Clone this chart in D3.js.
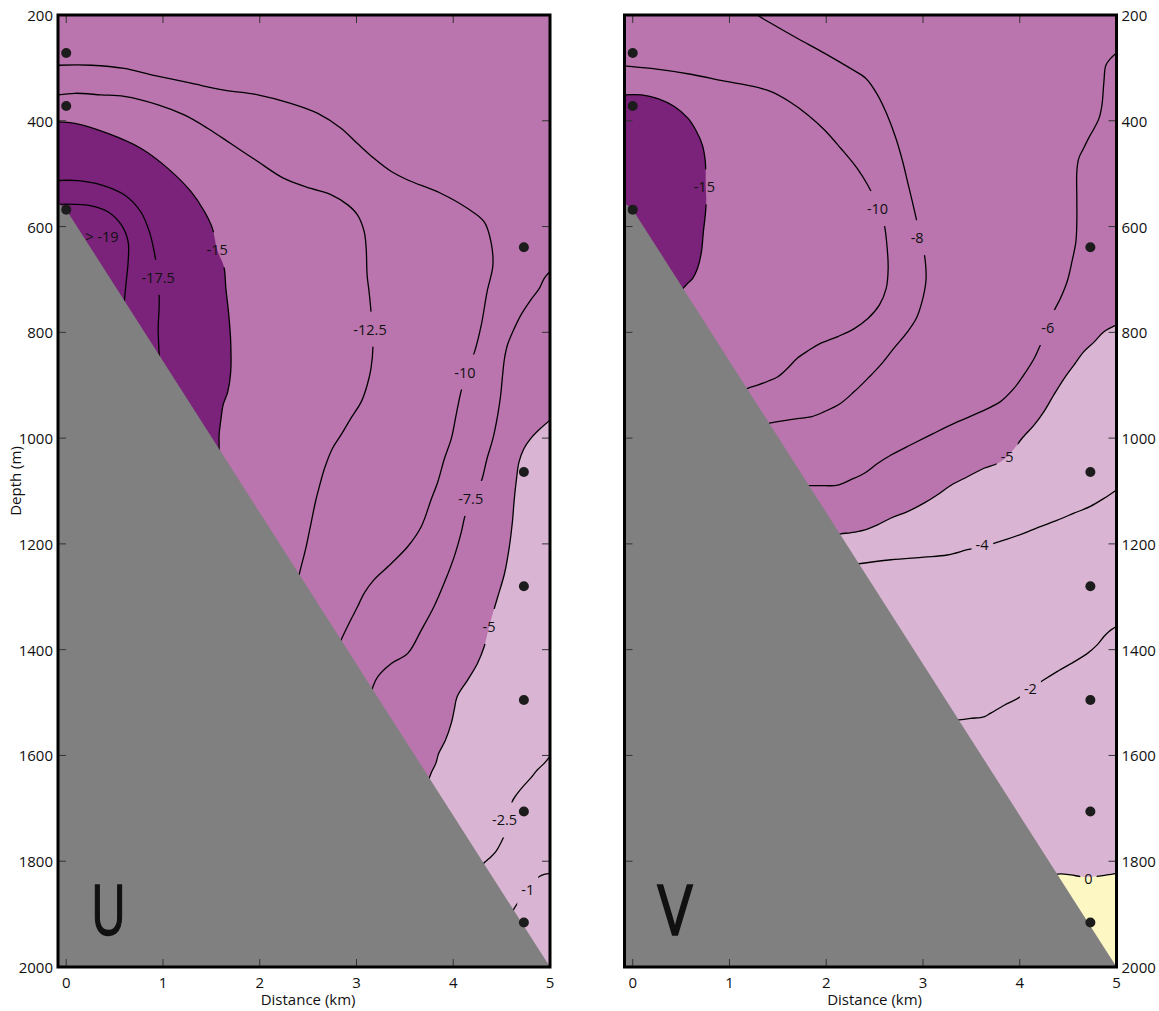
<!DOCTYPE html>
<html>
<head>
<meta charset="utf-8">
<script src="https://cdn.jsdelivr.net/npm/d3@7"></script>
<style>
  body { margin: 0; background: #fff; }
  svg text { font-family: "Open Sans", "Noto Sans", sans-serif; fill: #111; }
</style>
</head>
<body>
<svg id="chart" width="1159" height="1011"></svg>
<script>
// axes
const distTicks = [0, 1, 2, 3, 4, 5];
const depthTicks = [200, 400, 600, 800, 1000, 1200, 1400, 1600, 1800, 2000];

// bottom profile (km, m) and CTD/current meter stations
const seabed = [[-0.1, 553], [0, 568], [5, 2000]];
const stationKm = [0, 0, 0, 4.73, 4.73, 4.73, 4.73, 4.73, 4.73];
const stationDepth = [272, 372, 568, 639, 1064, 1280, 1495, 1706, 1916];

// U contours, [distance km, depth m]
const uC19 = [[-0.09,558],[0.09,558],[0.26,561],[0.43,572],[0.57,597],[0.64,629],[0.64,666],[0.62,704],[0.60,742],[0.59,760]];
const uC175 = [[-0.09,513],[0.12,513],[0.36,521],[0.60,540],[0.77,572],[0.86,610],[0.91,648],[0.95,696],[0.96,726],[0.96,755],[0.95,793],[0.96,843],[0.96,870]];
const uC15 = [[-0.09,402],[0.09,405],[0.43,424],[0.77,452],[1.05,490],[1.29,534],[1.43,572],[1.51,603],[1.56,644],[1.63,676],[1.65,717],[1.68,767],[1.70,818],[1.70,875],[1.67,912],[1.62,938],[1.60,963],[1.58,994],[1.58,1020],[1.57,1040]];
const uC125 = [[-0.09,351],[0.09,348],[0.36,351],[0.60,354],[0.95,370],[1.22,389],[1.46,414],[1.70,443],[1.98,477],[2.25,509],[2.53,528],[2.74,540],[2.91,559],[3.01,578],[3.08,610],[3.10,641],[3.11,692],[3.13,723],[3.15,761],[3.16,794],[3.17,827],[3.15,868],[3.11,900],[3.05,931],[2.94,963],[2.84,994],[2.75,1020],[2.67,1057],[2.62,1089],[2.58,1117],[2.53,1161],[2.48,1205],[2.41,1256],[2.38,1280]];
const uC10 = [[-0.09,295],[0.26,295],[0.60,301],[0.88,313],[1.29,329],[1.63,342],[1.98,351],[2.32,367],[2.60,386],[2.84,414],[3.01,443],[3.18,471],[3.36,496],[3.53,512],[3.87,537],[4.15,566],[4.32,591],[4.39,629],[4.41,673],[4.35,723],[4.29,786],[4.22,837],[4.14,875],[4.08,912],[4.03,956],[3.98,1001],[3.91,1038],[3.84,1083],[3.77,1117],[3.67,1167],[3.53,1205],[3.36,1237],[3.18,1268],[3.08,1293],[3.01,1319],[2.94,1344],[2.84,1382],[2.80,1400]];
const uC75 = [[5.0,685],[4.94,698],[4.89,717],[4.80,739],[4.70,767],[4.63,793],[4.56,824],[4.53,849],[4.51,881],[4.49,919],[4.46,956],[4.41,1001],[4.35,1038],[4.30,1076],[4.25,1101],[4.19,1120],[4.13,1142],[4.08,1180],[4.01,1224],[3.92,1268],[3.80,1319],[3.67,1363],[3.53,1407],[3.36,1426],[3.22,1451],[3.17,1470],[3.14,1490]];
const uC5 = [[5.0,966],[4.90,982],[4.80,1001],[4.73,1020],[4.68,1045],[4.65,1083],[4.63,1117],[4.61,1161],[4.58,1205],[4.53,1256],[4.46,1300],[4.41,1331],[4.37,1356],[4.32,1394],[4.25,1426],[4.15,1457],[4.04,1489],[4.01,1514],[3.98,1539],[3.92,1571],[3.85,1596],[3.82,1615],[3.77,1634],[3.72,1660]];
const uC25 = [[5.0,1602],[4.94,1615],[4.87,1627],[4.80,1643],[4.72,1659],[4.65,1675],[4.61,1687],[4.57,1718],[4.53,1750],[4.49,1766],[4.44,1782],[4.37,1795],[4.32,1803],[4.28,1812]];
const uC1 = [[5.0,1823],[4.94,1825],[4.89,1829],[4.80,1845],[4.72,1867],[4.68,1876],[4.63,1889],[4.60,1900]];
const uLabels = [['-17.5',0.95,696],['-15',1.56,644],['-12.5',3.14,794],['-10',4.12,875],['-7.5',4.18,1114],['-5',4.37,1356],['-2.5',4.53,1722],['-1',4.77,1853]];
const uRegionLabel = ['> -19', 0.37, 619];

// V contours
const vC15 = [[-0.09,351],[0.09,351],[0.26,358],[0.43,373],[0.57,395],[0.65,417],[0.72,446],[0.75,477],[0.755,525],[0.76,550],[0.75,578],[0.73,610],[0.71,648],[0.67,679],[0.62,698],[0.57,707],[0.52,717],[0.47,730]];
const vC10 = [[-0.09,296],[0.19,301],[0.60,312],[0.95,325],[1.22,334],[1.43,345],[1.63,365],[1.81,389],[1.98,417],[2.15,452],[2.32,490],[2.43,522],[2.49,544],[2.55,570],[2.60,597],[2.63,641],[2.64,679],[2.62,717],[2.55,748],[2.43,774],[2.29,793],[2.12,808],[1.94,821],[1.82,834],[1.70,849],[1.60,868],[1.50,884],[1.39,893],[1.29,900],[1.20,905],[1.12,912]];
const vC8 = [[1.27,195],[1.29,200],[1.46,219],[1.70,244],[1.98,272],[2.25,301],[2.41,320],[2.53,351],[2.63,389],[2.72,433],[2.79,477],[2.84,515],[2.89,553],[2.93,585],[2.97,621],[3.01,648],[3.03,679],[3.03,704],[2.99,742],[2.93,774],[2.84,799],[2.70,830],[2.56,862],[2.43,887],[2.29,912],[2.15,934],[1.98,950],[1.84,960],[1.70,963],[1.53,968],[1.41,972],[1.36,975]];
const vC6 = [[5.0,272],[4.94,282],[4.89,295],[4.87,326],[4.85,370],[4.82,395],[4.77,414],[4.72,430],[4.66,452],[4.61,471],[4.59,496],[4.59,547],[4.59,591],[4.58,629],[4.54,666],[4.49,704],[4.42,736],[4.35,761],[4.29,791],[4.22,821],[4.15,849],[4.04,881],[3.94,906],[3.80,931],[3.60,950],[3.36,969],[3.11,991],[2.87,1013],[2.67,1032],[2.53,1048],[2.39,1067],[2.25,1079],[2.12,1089],[1.98,1090],[1.82,1090],[1.76,1092]];
const vC5 = [[5.0,786],[4.87,799],[4.77,818],[4.66,837],[4.56,862],[4.46,887],[4.35,919],[4.25,950],[4.15,975],[4.04,997],[3.87,1035],[3.77,1048],[3.63,1057],[3.46,1073],[3.29,1089],[3.15,1107],[3.01,1123],[2.84,1139],[2.67,1151],[2.53,1164],[2.39,1174],[2.25,1179],[2.15,1181],[2.08,1185]];
const vC4 = [[5.0,1098],[4.87,1114],[4.73,1129],[4.56,1142],[4.39,1155],[4.22,1167],[4.04,1180],[3.87,1191],[3.61,1205],[3.46,1211],[3.25,1221],[3.01,1225],[2.67,1230],[2.32,1238],[2.25,1240]];
const vC2 = [[5.0,1356],[4.92,1366],[4.87,1375],[4.80,1391],[4.70,1407],[4.56,1423],[4.39,1441],[4.25,1457],[4.11,1474],[3.98,1492],[3.84,1505],[3.70,1520],[3.63,1527],[3.49,1530],[3.36,1533],[3.30,1535]];
const vC0 = [[5.0,1823],[4.90,1826],[4.71,1830],[4.63,1829],[4.53,1826],[4.42,1824],[4.36,1826]];
const vLabels = [['-15',0.74,525],['-10',2.53,566],['-8',2.94,621],['-6',4.29,791],['-5',3.87,1035],['-4',3.61,1202],['-2',4.11,1474],['0',4.71,1832]];

const W = 1159, H = 1011;
const yTop = 15, yBottom = 967;
const xMin = -0.085;
const colors = { dark: '#7b237a', mid: '#ba74ae', light: '#dab4d3', pos: '#fdf7c4', ground: '#808080' };

const svg = d3.select('#chart');
const defs = svg.append('defs');
const y = d3.scaleLinear().domain([200, 2000]).range([yTop, yBottom]);

const panels = [
  { id: 'u', letter: 'U', x0: 58, x1: 550, labelSide: 'left',
    lines: [uC19, uC175, uC15, uC125, uC10, uC75, uC5, uC25, uC1], labels: uLabels,
    bands: [[uC15, xMin, colors.dark], [uC5, 5, colors.light]] },
  { id: 'v', letter: 'V', x0: 624.5, x1: 1116.5, labelSide: 'right',
    lines: [vC15, vC10, vC8, vC6, vC5, vC4, vC2, vC0], labels: vLabels,
    bands: [[vC15, xMin, colors.dark], [vC5, 5, colors.light], [vC0, 5, colors.pos]] }
];

panels.forEach(p => {
  const x = d3.scaleLinear().domain([xMin, 5]).range([p.x0, p.x1]);
  const line = d3.line().x(d => x(d[0])).y(d => y(d[1])).curve(d3.curveCatmullRom.alpha(0.5));
  const straight = d3.line().x(d => x(d[0])).y(d => y(d[1]));

  defs.append('clipPath').attr('id', p.id + 'clip')
    .append('rect')
    .attr('x', p.x0).attr('y', yTop)
    .attr('width', p.x1 - p.x0).attr('height', yBottom - yTop);
  const mask = defs.append('mask').attr('id', p.id + 'mask')
    .attr('maskUnits', 'userSpaceOnUse')
    .attr('x', 0).attr('y', 0).attr('width', W).attr('height', H);
  mask.append('rect').attr('width', W).attr('height', H).attr('fill', '#fff');

  const g = svg.append('g');
  const body = g.append('g').attr('clip-path', `url(#${p.id}clip)`);

  body.append('rect')
    .attr('x', p.x0).attr('y', yTop)
    .attr('width', p.x1 - p.x0).attr('height', yBottom - yTop)
    .attr('fill', colors.mid);

  // filled bands: contour + one corner under the seabed
  body.selectAll('path.band')
    .data(p.bands)
    .join('path')
    .attr('class', 'band')
    .attr('d', b => line(b[0]) + `L${x(b[1])},${y(2000)}Z`)
    .attr('fill', b => b[2]);

  body.append('g')
    .attr('mask', `url(#${p.id}mask)`)
    .selectAll('path')
    .data(p.lines)
    .join('path')
    .attr('d', line)
    .attr('fill', 'none')
    .attr('stroke', '#000')
    .attr('stroke-width', 1.3);

  body.append('path')
    .datum(seabed.concat([[5, 2000], [-0.1, 2000]]))
    .attr('d', d => straight(d) + 'Z')
    .attr('fill', colors.ground);

  // contour labels, with gaps cut in the lines
  g.selectAll('text.clabel')
    .data(p.labels)
    .join('text')
    .attr('class', 'clabel')
    .attr('x', d => x(d[1]))
    .attr('y', d => y(d[2]))
    .attr('text-anchor', 'middle')
    .attr('dominant-baseline', 'central')
    .attr('font-size', 14.5)
    .text(d => d[0])
    .each(function () {
      const b = this.getBBox();
      mask.append('rect')
        .attr('x', b.x - 4).attr('y', b.y - 8)
        .attr('width', b.width + 8).attr('height', b.height + 16)
        .attr('fill', '#000');
    });

  if (p.id === 'u') {
    g.append('text')
      .attr('x', x(uRegionLabel[1])).attr('y', y(uRegionLabel[2]))
      .attr('text-anchor', 'middle')
      .attr('dominant-baseline', 'central')
      .attr('font-size', 14.5)
      .text(uRegionLabel[0]);
  }

  g.selectAll('circle')
    .data(d3.zip(stationKm, stationDepth))
    .join('circle')
    .attr('cx', d => x(d[0]))
    .attr('cy', d => y(d[1]))
    .attr('r', 5)
    .attr('fill', '#1c1c1c');

  g.append('text')
    .attr('x', p.x0 + 33).attr('y', 935)
    .attr('font-size', 70)
    .attr('textLength', 35)
    .attr('lengthAdjust', 'spacingAndGlyphs')
    .attr('stroke', '#111')
    .attr('stroke-width', 1.6)
    .text(p.letter);

  // ticks inside the frame
  const tk = g.append('g').attr('stroke', '#333').attr('stroke-width', 1);
  distTicks.forEach(t => {
    tk.append('line').attr('x1', x(t)).attr('x2', x(t)).attr('y1', yTop).attr('y2', yTop + 8);
    tk.append('line').attr('x1', x(t)).attr('x2', x(t)).attr('y1', yBottom - 8).attr('y2', yBottom);
  });
  depthTicks.forEach(t => {
    tk.append('line').attr('x1', p.x0).attr('x2', p.x0 + 8).attr('y1', y(t)).attr('y2', y(t));
    tk.append('line').attr('x1', p.x1 - 8).attr('x2', p.x1).attr('y1', y(t)).attr('y2', y(t));
  });

  g.append('rect')
    .attr('x', p.x0).attr('y', yTop)
    .attr('width', p.x1 - p.x0).attr('height', yBottom - yTop)
    .attr('fill', 'none')
    .attr('stroke', '#000')
    .attr('stroke-width', 3);

  g.selectAll('text.xtick')
    .data(distTicks)
    .join('text')
    .attr('class', 'xtick')
    .attr('x', d => x(d))
    .attr('y', 988)
    .attr('text-anchor', 'middle')
    .attr('font-size', 15)
    .text(d => d);

  g.append('text')
    .attr('x', x(2.5)).attr('y', 1005)
    .attr('text-anchor', 'middle')
    .attr('font-size', 15)
    .text('Distance (km)');

  const onLeft = p.labelSide === 'left';
  g.selectAll('text.ytick')
    .data(depthTicks)
    .join('text')
    .attr('class', 'ytick')
    .attr('x', onLeft ? p.x0 - 5 : p.x1 + 5)
    .attr('y', d => y(d))
    .attr('text-anchor', onLeft ? 'end' : 'start')
    .attr('dominant-baseline', 'central')
    .attr('font-size', 15)
    .text(d => d);

  if (onLeft) {
    g.append('text')
      .attr('transform', 'translate(21,481) rotate(-90)')
      .attr('text-anchor', 'middle')
      .attr('font-size', 15)
      .text('Depth (m)');
  }
});
</script>
</body>
</html>
